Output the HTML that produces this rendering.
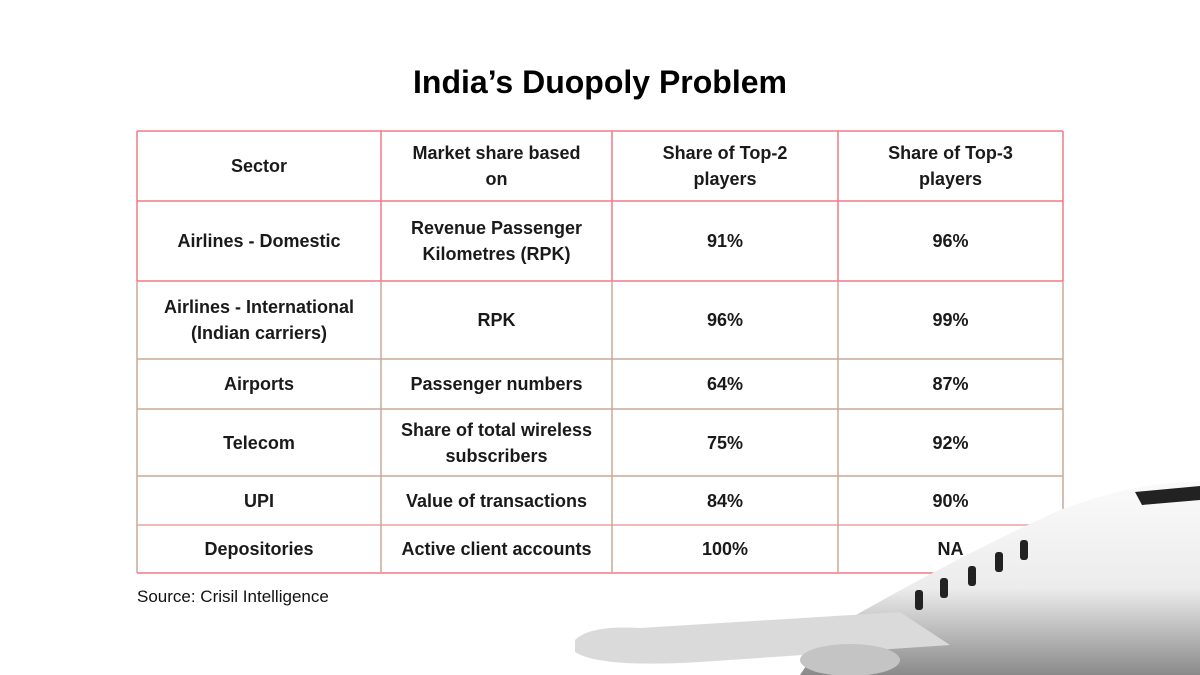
<!DOCTYPE html>
<html><head><meta charset="utf-8"><style>
body{margin:0;width:1200px;height:675px;background:#fff;position:relative;overflow:hidden;font-family:"Liberation Sans",sans-serif;color:#111}
h1{position:absolute;top:64px;left:0;width:1200px;text-align:center;font-size:32px;font-weight:bold;margin:0;color:#000}
.c{position:absolute;display:flex;align-items:center;justify-content:center;text-align:center;font-weight:bold;font-size:18px;line-height:26px;color:#1a1a1a;z-index:3}
.src{position:absolute;left:137px;top:587px;font-size:17px;color:#111}
svg{position:absolute;left:0;top:0}
</style></head><body>
<h1>India’s Duopoly Problem</h1>
<svg width="1200" height="675" style="z-index:2">
<g stroke-width="1.5">
<line x1="137" y1="131" x2="1063" y2="131" stroke="#f07a86"/>
<line x1="137" y1="201" x2="1063" y2="201" stroke="#f07a86"/>
<line x1="137" y1="281" x2="1063" y2="281" stroke="#f07a86"/>
<line x1="137" y1="359" x2="1063" y2="359" stroke="#c9a897"/>
<line x1="137" y1="409" x2="1063" y2="409" stroke="#c9a897"/>
<line x1="137" y1="476" x2="1063" y2="476" stroke="#c9a897"/>
<line x1="137" y1="525" x2="1063" y2="525" stroke="#e9a3a3"/>
<line x1="137" y1="573" x2="1063" y2="573" stroke="#f07a86"/>
<g stroke="#f07a86"><line x1="137" y1="131" x2="137" y2="281"/><line x1="381" y1="131" x2="381" y2="281"/><line x1="612" y1="131" x2="612" y2="281"/><line x1="838" y1="131" x2="838" y2="281"/><line x1="1063" y1="131" x2="1063" y2="281"/></g>
<g stroke="#c9a897"><line x1="137" y1="281" x2="137" y2="573"/><line x1="381" y1="281" x2="381" y2="573"/><line x1="612" y1="281" x2="612" y2="573"/><line x1="838" y1="281" x2="838" y2="573"/><line x1="1063" y1="281" x2="1063" y2="573"/></g>
</g></svg>
<svg width="1200" height="675" style="z-index:4">
<defs><linearGradient id="g" x1="0" y1="0" x2="0" y2="1"><stop offset="0" stop-color="#fafafa"/><stop offset="0.55" stop-color="#ececec"/><stop offset="1" stop-color="#8a8a8a"/></linearGradient></defs>
<path d="M830 630 Q950 560 1060 510 Q1140 480 1200 482 L1200 675 L800 675 Z" fill="url(#g)"/>
<path d="M575 640 Q590 625 640 628 L900 612 L950 645 L700 662 Q600 668 575 652 Z" fill="#dadada"/>
<path d="M1135 492 L1200 486 L1200 500 L1142 505 Z" fill="#222"/>
<g fill="#222"><rect x="1020" y="540" width="8" height="20" rx="3"/><rect x="995" y="552" width="8" height="20" rx="3"/><rect x="968" y="566" width="8" height="20" rx="3"/><rect x="940" y="578" width="8" height="20" rx="3"/><rect x="915" y="590" width="8" height="20" rx="3"/></g>
<ellipse cx="850" cy="660" rx="50" ry="16" fill="#c4c4c4"/>
</svg>
<div>
<div class="c" style="left:137px;top:131px;width:244px;height:70px">Sector</div>
<div class="c" style="left:381px;top:131px;width:231px;height:70px">Market share based<br>on</div>
<div class="c" style="left:612px;top:131px;width:226px;height:70px">Share of Top-2<br>players</div>
<div class="c" style="left:838px;top:131px;width:225px;height:70px">Share of Top-3<br>players</div>

<div class="c" style="left:137px;top:201px;width:244px;height:80px">Airlines - Domestic</div>
<div class="c" style="left:381px;top:201px;width:231px;height:80px">Revenue Passenger<br>Kilometres (RPK)</div>
<div class="c" style="left:612px;top:201px;width:226px;height:80px">91%</div>
<div class="c" style="left:838px;top:201px;width:225px;height:80px">96%</div>

<div class="c" style="left:137px;top:281px;width:244px;height:78px">Airlines - International<br>(Indian carriers)</div>
<div class="c" style="left:381px;top:281px;width:231px;height:78px">RPK</div>
<div class="c" style="left:612px;top:281px;width:226px;height:78px">96%</div>
<div class="c" style="left:838px;top:281px;width:225px;height:78px">99%</div>

<div class="c" style="left:137px;top:359px;width:244px;height:50px">Airports</div>
<div class="c" style="left:381px;top:359px;width:231px;height:50px">Passenger numbers</div>
<div class="c" style="left:612px;top:359px;width:226px;height:50px">64%</div>
<div class="c" style="left:838px;top:359px;width:225px;height:50px">87%</div>

<div class="c" style="left:137px;top:409px;width:244px;height:67px">Telecom</div>
<div class="c" style="left:381px;top:409px;width:231px;height:67px">Share of total wireless<br>subscribers</div>
<div class="c" style="left:612px;top:409px;width:226px;height:67px">75%</div>
<div class="c" style="left:838px;top:409px;width:225px;height:67px">92%</div>

<div class="c" style="left:137px;top:476px;width:244px;height:49px">UPI</div>
<div class="c" style="left:381px;top:476px;width:231px;height:49px">Value of transactions</div>
<div class="c" style="left:612px;top:476px;width:226px;height:49px">84%</div>
<div class="c" style="left:838px;top:476px;width:225px;height:49px">90%</div>

<div class="c" style="left:137px;top:525px;width:244px;height:48px">Depositories</div>
<div class="c" style="left:381px;top:525px;width:231px;height:48px">Active client accounts</div>
<div class="c" style="left:612px;top:525px;width:226px;height:48px">100%</div>
<div class="c" style="left:838px;top:525px;width:225px;height:48px">NA</div>
</div>
<div class="src">Source: Crisil Intelligence</div>
</body></html>
